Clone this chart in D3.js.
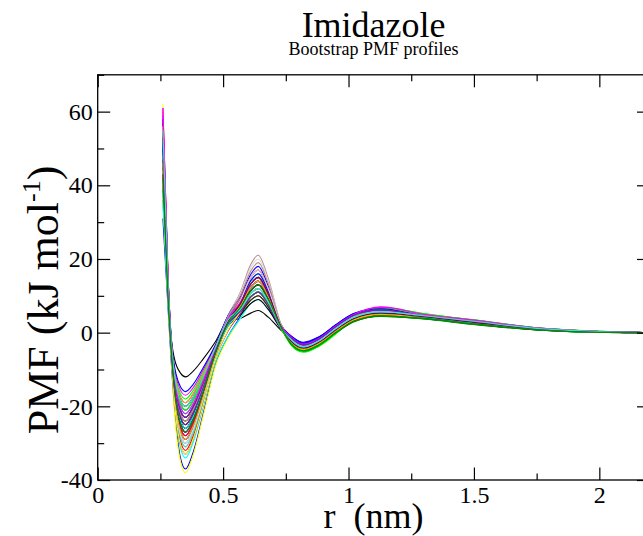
<!DOCTYPE html>
<html>
<head>
<meta charset="utf-8">
<script src="https://cdn.jsdelivr.net/npm/d3@7"></script>
<style>
  body { margin: 0; background: #fff; }
  svg { display: block; }
  text { font-family: "Liberation Serif", "Times New Roman", serif; }
</style>
</head>
<body>
<svg id="chart" width="643" height="536"></svg>
<script>
// r grid (nm) shared by all bootstrap profiles
const rValues = [0.26, 0.28, 0.30, 0.33, 0.35, 0.38, 0.42, 0.47, 0.52, 0.57, 0.61, 0.64, 0.68,
                 0.73, 0.77, 0.82, 0.88, 0.95, 1.02, 1.13, 1.30, 1.50, 1.75, 2.00, 2.20];

// PMF values (kJ/mol), one row per bootstrap profile
const profiles = [
  [40,10,-5,-11,-12,-10.5,-7.2,-2.4,3.3,3.9,5.3,6,4.2,0.7,-1.4,-3.4,-1.9,1.6,4.6,6.1,4.6,3.1,1.15,0.3,0],
  [55,14.5,-9.6,-22.1,-24,-21.1,-14.4,-4.8,2.9,6.5,10.6,12,8.4,1.4,-2.3,-4.3,-2.8,0.7,3.7,5.2,4.5,3.0,1.1,0.25,0],
  [52,13.6,-8.8,-20.2,-22,-19.4,-13.2,-4.4,3.7,7.7,12.3,14,9.8,1.7,-3.3,-5.3,-3.8,-0.3,4.0,6.8,5.2,3.3,1.2,0.3,0],
  [31,7.3,-14.8,-34,-37,-32.6,-22.2,-8.5,-1,4.5,9.7,11,7.7,1.3,-1.0,-2.6,-1.2,2.0,5.0,6.5,4.3,2.8,1.0,0.2,0],
  [62,16.6,-15.2,-35,-38,-33.4,-22.8,-9,-1.5,4,8.8,10,7,1.2,-2.5,-4.5,-3,0.5,3.5,5.0,4.7,3.2,1.2,0.3,0],
  [45,11.5,-11.2,-25.8,-28,-24.6,-16.8,-5.6,4.4,11.2,18.5,21,14.7,2.5,-1.8,-3.8,-2.3,1.2,4.2,5.7,4.4,2.9,1.05,0.2,0],
  [50,13,-10.4,-23.9,-26,-22.9,-15.6,-5.2,4.45,10.75,17.6,20,14,2.4,-1.6,-3.6,-2.1,1.4,4.4,5.9,4.1,2.6,0.9,0.15,0],
  [58,15.4,-8,-18.4,-20,-17.6,-12,-4,4.4,8.9,14.1,16,11.2,1.9,-1.1,-3.1,-1.6,1.9,4.9,6.4,4.8,3.3,1.25,0.3,0],
  [42,10.6,-13.6,-31.3,-34,-29.9,-20.4,-8,-1,4.0,7.9,9,6.3,1.1,-2.2,-4.2,-2.7,0.8,3.8,5.3,3.9,2.4,0.8,0.1,0],
  [61,16.3,-10,-23,-25,-22,-15,-5,3.9,9.2,15,17,11.9,2,-1.3,-3.3,-1.8,1.7,4.7,6.8,4.9,3.4,1.3,0.35,0],
  [38,9.4,-10.8,-24.8,-27,-23.8,-16.2,-5.4,2.2,5.8,9.7,11,7.7,1.3,-2.7,-4.7,-3.2,0.3,3.3,4.8,4.3,2.8,1.0,0.2,0],
  [47,12.1,-7.6,-17.5,-19,-16.7,-11.4,-3.8,4.35,8.4,13.2,15,10.5,1.8,-1.2,-3.2,-1.7,1.8,4.8,6.3,4.2,2.7,0.95,0.2,0],
  [53,13.9,-11.6,-26.7,-29,-25.5,-17.4,-5.8,2.2,6.3,10.6,12,8.4,1.4,-2.4,-4.4,-2.9,0.6,3.6,5.1,4.6,3.1,1.15,0.3,0],
  [44,11.2,-9.2,-21.2,-23,-20.2,-13.8,-4.6,3.3,7.1,11.4,13,9.1,1.6,-1.9,-3.9,-2.4,1.1,4.1,5.6,4.5,3.0,1.1,0.25,0],
  [36,8.8,-10.4,-23.9,-26,-22.9,-15.6,-5.2,2.15,5.35,8.8,10,7,1.2,-3.1,-5.1,-3.6,-0.1,2.9,4.4,3.8,2.3,0.75,0.1,0],
  [49,12.7,-10.8,-24.8,-27,-23.8,-16.2,-5.4,1.8,4.8,7.9,9,6.3,1.1,-1.7,-3.7,-2.2,1.3,4.3,5.8,4.0,2.5,0.85,0.1,0],
  [57,15.1,-12,-27.6,-30,-26.4,-18,-6,2.2,6.8,11.4,13,9.1,1.6,-2.6,-4.6,-3.1,0.4,3.4,4.9,4.7,3.2,1.2,0.3,0],
  [41,10.3,-7.2,-16.6,-18,-15.8,-10.8,-3.6,4.5,8.45,13.2,15,10.5,1.8,-2.9,-4.9,-3.4,0.1,4.5,6.9,5.0,3.5,1.35,0.4,0],
  [54,14.2,-8.4,-19.3,-21,-18.5,-12.6,-4.2,4.7,9.9,15.8,18,12.6,2.2,-0.9,-2.9,-1.4,2.1,5.1,6.6,4.1,2.6,0.9,0.15,0],
  [60,16,-9.6,-22.1,-24,-21.1,-14.4,-4.8,3.4,7.6,12.3,14,9.8,1.7,-2,-4,-2.5,1,4,5.5,4.4,2.9,1.05,0.2,0],
  [39,9.7,-12.4,-28.5,-31,-27.3,-18.6,-6.2,2.8,8.3,14.1,16,11.2,1.9,-2.2,-4.2,-2.7,0.8,3.8,5.3,4.3,2.8,1.0,0.2,0],
  [46,11.8,-8.8,-20.2,-22,-19.4,-13.2,-4.4,3.2,6.6,10.6,12,8.4,1.4,-1.5,-3.5,-2.0,1.5,4.5,6.0,4.6,3.1,1.15,0.3,0],
  [52,13.6,-10.8,-24.8,-27,-23.8,-16.2,-5.4,2.9,7.5,12.3,14,9.8,1.7,-1.4,-3.4,-1.9,1.6,4.6,6.3,4.2,2.7,0.95,0.2,0],
  [35,8.5,-12,-27.6,-30,-26.4,-18,-6,1.8,5.7,9.7,11,7.7,1.3,-1.8,-3.8,-2.3,1.2,4.2,5.7,4.5,3.0,1.1,0.25,0],
  [59,15.7,-6.8,-15.6,-17,-15,-10.2,-3.4,4.2,7.4,11.4,13,9.1,1.6,-1.6,-3.6,-2.1,1.4,4.4,6.4,4.8,3.3,1.25,0.3,0],
  [43,10.9,-10,-23,-25,-22,-15,-5,3.45,8.1,13.2,15,10.5,1.8,-2.3,-4.3,-2.8,0.7,3.7,5.2,4.1,2.6,0.9,0.15,0],
  [56,14.8,-11.2,-25.8,-28,-24.6,-16.8,-5.6,2.3,6.3,10.6,12,8.4,1.4,-1.1,-3.1,-1.6,1.9,4.9,6.4,4.4,2.9,1.05,0.2,0],
  [48,12.4,-9.2,-21.2,-23,-20.2,-13.8,-4.6,2.6,5.5,8.8,10,7,1.2,-2.1,-4.1,-2.6,0.9,3.9,5.4,3.9,2.4,0.8,0.1,0],
  [51,13.3,-10.4,-23.9,-26,-22.9,-15.6,-5.2,3.5,8.6,14.1,16,11.2,1.9,-1.7,-3.7,-2.2,1.3,4.3,5.8,4.6,3.1,1.15,0.3,0],
  [45,11.5,-8,-18.4,-20,-17.6,-12,-4,3.7,7.3,11.4,13,9.1,1.6,-3.0,-5.0,-3.5,0,3.0,4.5,3.7,2.2,0.7,0.05,0],
  [53,13.9,-10,-23,-25,-22,-15,-5,2.8,6.5,10.6,12,8.4,1.4,-2,-4,-2.5,1,4,5.5,4.3,2.8,1.0,0.2,0],
  [40,10,-12.8,-29.4,-32,-28.2,-19.2,-6.4,2.4,7.75,13.2,15,10.5,1.8,-1.5,-3.5,-2.0,1.5,4.5,6.0,4.5,3.0,1.1,0.25,0],
  [47,12.1,-9.6,-22.1,-24,-21.1,-14.4,-4.8,2.7,6.0,9.7,11,7.7,1.3,-3.2,-5.2,-3.7,-0.2,4.2,6.6,4.9,3.4,1.3,0.35,0],
  [58,15.4,-6.4,-14.7,-16,-14.1,-9.6,-3.2,4.6,8.0,12.3,14,9.8,1.7,-0.8,-2.8,-1.3,2.2,5.2,6.7,4.4,2.9,1.05,0.2,0],
  [37,9.1,-11.6,-26.7,-29,-25.5,-17.4,-5.8,2.4,6.8,11.4,13,9.1,1.6,-2.5,-4.5,-3.0,0.5,3.5,5.0,4.0,2.5,0.85,0.1,0],
  [50,13,-8.4,-19.3,-21,-18.5,-12.6,-4.2,4.5,9.4,15,17,11.9,2.0,-1.8,-3.8,-2.3,1.2,4.2,5.7,4.7,3.2,1.2,0.3,0],
  [44,11.2,-10.8,-24.8,-27,-23.8,-16.2,-5.4,3.15,8.0,13.2,15,10.5,1.8,-2.4,-4.4,-2.9,0.6,3.6,5.1,4.2,2.7,0.95,0.2,0],
  [55,14.5,-13.2,-30.4,-33,-29,-19.8,-7.2,0.5,5.5,10.6,12,8.4,1.4,-1.3,-3.3,-1.8,1.7,4.7,6.2,4.5,3.0,1.1,0.25,0],
  [49,12.7,-8.8,-20.2,-22,-19.4,-13.2,-4.4,4.1,8.8,14.1,16,11.2,1.9,-2,-4,-2.5,1,4,5.5,4.3,2.8,1.0,0.2,0],
  [61,16.3,-11.2,-25.8,-28,-24.6,-16.8,-5.6,2.8,7.4,12.3,14,9.8,1.7,-1.2,-3.2,-1.7,1.8,4.8,6.8,4.8,3.3,1.25,0.3,0],
  [42,10.6,-7.6,-17.5,-19,-16.7,-11.4,-3.8,3.7,6.8,10.6,12,8.4,1.4,-2.2,-4.2,-2.7,0.8,3.8,5.3,4.5,3.0,1.1,0.25,0],
  [57,15.1,-9.6,-22.1,-24,-21.1,-14.4,-4.8,3.15,7.1,11.4,13,9.1,1.6,-1.4,-3.4,-1.9,1.6,4.6,6.1,4.1,2.6,0.9,0.15,0],
  [46,11.8,-10.4,-23.9,-26,-22.9,-15.6,-5.2,2.4,5.9,9.7,11,7.7,1.3,-2.3,-4.3,-2.8,0.7,3.7,5.2,4.4,2.9,1.05,0.2,0],
  [52,13.6,-12.4,-28.5,-31,-27.3,-18.6,-6.2,2.3,7.3,12.3,14,9.8,1.7,-1.9,-3.9,-2.4,1.1,4.1,5.6,4.0,2.5,0.85,0.1,0],
  [39,9.7,-9.2,-21.2,-23,-20.2,-13.8,-4.6,3.75,8.2,13.2,15,10.5,1.8,-3.0,-5.0,-3.5,0,3.0,4.5,3.8,2.3,0.75,0.1,0],
  [47,12,-10.4,-23.9,-26,-22.9,-15.6,-5.2,3.0,7.2,11.4,13,9.1,1.6,-2.1,-4.1,-2.6,0.9,3.9,5.4,4.2,2.7,0.9,0.2,0],
  [54,14,-11.2,-25.8,-28,-24.6,-16.8,-5.6,3.6,9.1,15,17,11.9,2.0,-2.2,-4.2,-2.7,0.8,3.8,5.3,4.6,3.1,1.1,0.25,0],
  [44,11,-8.4,-19.3,-21,-18.5,-12.6,-4.2,3.1,6.2,9.7,11,7.7,1.3,-2.8,-4.8,-3.3,0.2,4.3,6.6,5.1,3.4,1.3,0.3,0],
  [50,13,-11.6,-26.7,-29,-25.5,-17.4,-5.8,3.1,8.5,14.1,16,11.2,1.9,-1.0,-3.0,-1.5,2.0,5.0,6.5,4.3,2.8,1.0,0.2,0],
  [56,15,-13.2,-30.4,-33,-29,-19.8,-7.2,0.8,5.8,10.6,12,8.4,1.4,-2.4,-4.4,-2.9,0.6,3.6,5.1,4.5,3.0,1.1,0.25,0],
  [48,12.5,-9.6,-22.1,-24,-21.1,-14.4,-4.8,4.4,10.3,16.7,19,13.3,2.3,-1.7,-3.7,-2.2,1.3,4.3,5.8,4.3,2.8,1.0,0.2,0],
  [41,10.5,-12,-27.6,-30,-26.4,-18,-6,3.2,8.9,15,17,11.9,2.0,-1.9,-3.9,-2.4,1.1,4.1,5.6,4.4,2.9,1.05,0.2,0],
  [53,14,-9.2,-21.2,-23,-20.2,-13.8,-4.6,3.5,7.7,12.3,14,9.8,1.7,-1.3,-3.3,-1.8,1.7,4.7,6.2,4.5,3.0,1.1,0.25,0],
  [38,9.6,-10.4,-23.9,-26,-22.9,-15.6,-5.2,2.6,6.4,10.6,12,8.4,1.4,-2.0,-4.0,-2.5,1.0,4.0,5.5,4.2,2.7,0.95,0.2,0],
  [60,16,-8.8,-20.2,-22,-19.4,-13.2,-4.4,3.9,8.3,13.2,15,10.5,1.8,-1.1,-3.1,-1.6,1.9,4.9,7.0,5.0,3.4,1.3,0.3,0],
  [46,12,-11.6,-26.7,-29,-25.5,-17.4,-5.8,2.6,7.4,12.3,14,9.8,1.7,-2.5,-4.5,-3.0,0.5,3.5,5.0,4.3,2.8,1.0,0.2,0],
  [51,13,-10,-23,-25,-22,-15,-5,2.5,5.9,9.7,11,7.7,1.3,-1.3,-3.3,-1.8,1.7,4.7,6.2,4.4,2.9,1.05,0.2,0],
  [43,11,-10.8,-24.8,-27,-23.8,-16.2,-5.4,3.1,8.0,13.2,15,10.5,1.8,-2.2,-4.2,-2.7,0.8,3.8,5.3,4.3,2.8,1.0,0.2,0],
  [55,14.5,-8,-18.4,-20,-17.6,-12,-4,3.5,6.7,10.6,12,8.4,1.4,-1.8,-3.8,-2.3,1.2,4.2,5.7,4.6,3.1,1.15,0.3,0],
  [42,10.8,-10.8,-24.8,-27,-23.8,-16.2,-5.4,2.7,6.9,11.4,13,9.1,1.6,-2.9,-4.9,-3.4,0.1,3.1,4.6,3.9,2.4,0.8,0.1,0]
];

// xmgrace default palette (black .. green4), used in turn
const graceColors = ['#000000', '#ff0000', '#00ff00', '#0000ff', '#ffff00', '#bc8f8f', '#dcdcdc',
                     '#9400d3', '#00ffff', '#ff00ff', '#ffa500', '#7221bc', '#670748', '#40e0d0', '#008b00'];

const xMajorTicks = [0, 0.5, 1, 1.5, 2];
const xMinorTicks = [0.25, 0.75, 1.25, 1.75];
const yMajorTicks = [-40, -20, 0, 20, 40, 60];
const yMinorTicks = [-30, -10, 10, 30, 50, 70];

const plotLeft = 97.7, plotRight = 649.5, plotTop = 74.8, plotBottom = 480;
const serif = '"Liberation Serif", "Times New Roman", serif';

const svg = d3.select('#chart');

const x = d3.scaleLinear().domain([0, 2.2]).range([plotLeft, plotRight]);
const y = d3.scaleLinear().domain([-40, 70]).range([plotBottom, plotTop]);

svg.append('defs').append('clipPath').attr('id', 'plot-clip')
  .append('rect')
  .attr('x', plotLeft).attr('y', plotTop)
  .attr('width', plotRight - plotLeft).attr('height', plotBottom - plotTop);

// profiles
const line = d3.line()
  .x((d, i) => x(rValues[i]))
  .y(d => y(d))
  .curve(d3.curveMonotoneX);

svg.append('g')
  .attr('clip-path', 'url(#plot-clip)')
  .selectAll('path')
  .data(profiles)
  .join('path')
  .attr('fill', 'none')
  .attr('stroke', (d, i) => graceColors[i % graceColors.length])
  .attr('stroke-width', 1.1)
  .attr('d', line);

// axes - ticks point inward like xmgrace
function styleAxis(g) {
  g.attr('font-family', serif).attr('font-size', 24);
  g.select('.domain').remove();
  g.selectAll('.tick line').attr('stroke', '#000').attr('stroke-width', 1.2);
  g.selectAll('.tick text').attr('fill', '#000');
}
const plainFormat = d => String(d);

svg.append('g')
  .attr('transform', `translate(0,${plotBottom})`)
  .call(d3.axisBottom(x).tickValues(xMajorTicks).tickSize(-12.5).tickPadding(6).tickFormat(plainFormat))
  .call(styleAxis);
svg.append('g')
  .attr('transform', `translate(0,${plotBottom})`)
  .call(d3.axisBottom(x).tickValues(xMinorTicks).tickSize(-6.5).tickFormat(''))
  .call(styleAxis);
svg.append('g')
  .attr('transform', `translate(0,${plotTop})`)
  .call(d3.axisTop(x).tickValues(xMajorTicks).tickSize(-12.5).tickFormat(''))
  .call(styleAxis);
svg.append('g')
  .attr('transform', `translate(0,${plotTop})`)
  .call(d3.axisTop(x).tickValues(xMinorTicks).tickSize(-6.5).tickFormat(''))
  .call(styleAxis);

svg.append('g')
  .attr('transform', `translate(${plotLeft},0)`)
  .call(d3.axisLeft(y).tickValues(yMajorTicks).tickSize(-12.5).tickPadding(5).tickFormat(plainFormat))
  .call(styleAxis);
svg.append('g')
  .attr('transform', `translate(${plotLeft},0)`)
  .call(d3.axisLeft(y).tickValues(yMinorTicks).tickSize(-6.5).tickFormat(''))
  .call(styleAxis);
svg.append('g')
  .attr('transform', `translate(${plotRight},0)`)
  .call(d3.axisRight(y).tickValues(yMajorTicks).tickSize(-12.5).tickFormat(''))
  .call(styleAxis);
svg.append('g')
  .attr('transform', `translate(${plotRight},0)`)
  .call(d3.axisRight(y).tickValues(yMinorTicks).tickSize(-6.5).tickFormat(''))
  .call(styleAxis);

// frame
svg.append('rect')
  .attr('x', plotLeft).attr('y', plotTop)
  .attr('width', plotRight - plotLeft).attr('height', plotBottom - plotTop)
  .attr('fill', 'none').attr('stroke', '#000').attr('stroke-width', 1.3);

// titles
const cx = (plotLeft + plotRight) / 2;
svg.append('text')
  .attr('x', cx).attr('y', 37)
  .attr('text-anchor', 'middle')
  .attr('font-family', serif)
  .attr('font-size', 36)
  .text('Imidazole');
svg.append('text')
  .attr('x', cx).attr('y', 55)
  .attr('text-anchor', 'middle')
  .attr('font-family', serif)
  .attr('font-size', 18)
  .text('Bootstrap PMF profiles');

// axis labels
svg.append('text')
  .attr('x', cx).attr('y', 528)
  .attr('text-anchor', 'middle')
  .attr('font-family', serif)
  .attr('xml:space', 'preserve')
  .style('white-space', 'pre')
  .attr('font-size', 36)
  .text('r  (nm)');

const yLabel = svg.append('text')
  .attr('transform', 'translate(58,300) rotate(-90)')
  .attr('text-anchor', 'middle')
  .attr('font-family', serif)
  .attr('font-size', 44);
yLabel.append('tspan').text('PMF (kJ mol');
yLabel.append('tspan').attr('dy', -18).attr('font-size', 26).text('-1');
yLabel.append('tspan').attr('dy', 18).text(')');
</script>
</body>
</html>
